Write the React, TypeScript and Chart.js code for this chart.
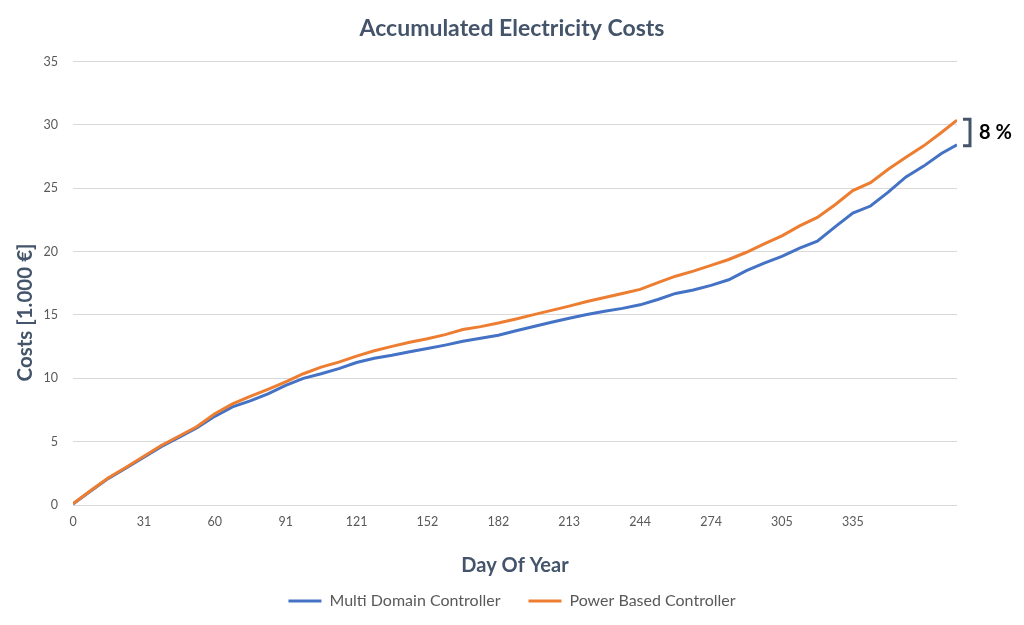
import React, { useEffect, useRef } from "react";
import { Chart, registerables } from "chart.js";

Chart.register(...registerables);

const TITLE = "Accumulated Electricity Costs";
const X_TITLE = "Day Of Year";
const Y_TITLE = "Costs [1.000 €]";
const SERIES_NAMES = ["Multi Domain Controller", "Power Based Controller"];
const ANNOTATION_TEXT = "8 %";

// x-axis tick labels (evenly spaced category-style labels)
const TICK_LABELS = ["0", "31", "60", "91", "121", "152", "182", "213", "244", "274", "305", "335"];
const X_MAX = 12.47;

// sample positions along the x axis, in units of tick steps
const POSITIONS = [
  0, 0.25, 0.5, 0.75, 1, 1.25, 1.5, 1.75, 2, 2.25, 2.5, 2.75, 3, 3.25, 3.5, 3.75, 4, 4.25, 4.5, 4.75,
  5, 5.25, 5.5, 5.75, 6, 6.25, 6.5, 6.75, 7, 7.25, 7.5, 7.75, 8, 8.25, 8.5, 8.75, 9, 9.25, 9.5, 9.75,
  10, 10.25, 10.5, 10.75, 11, 11.25, 11.5, 11.75, 12, 12.25, 12.47,
];

const MULTI_DOMAIN = [
  0.08, 1.1, 2.1, 2.92, 3.78, 4.62, 5.36, 6.1, 7.0, 7.75, 8.22, 8.78, 9.45, 10.0, 10.36, 10.76, 11.25, 11.58, 11.82, 12.1,
  12.35, 12.62, 12.92, 13.16, 13.4, 13.75, 14.09, 14.42, 14.74, 15.03, 15.3, 15.52, 15.8, 16.22, 16.7, 16.97, 17.34, 17.78, 18.5, 19.1,
  19.63, 20.28, 20.82, 21.95, 23.05, 23.6, 24.7, 25.9, 26.75, 27.75, 28.43,
];

const POWER_BASED = [
  0.1, 1.15, 2.15, 2.98, 3.85, 4.72, 5.45, 6.2, 7.2, 7.98, 8.57, 9.13, 9.72, 10.36, 10.88, 11.28, 11.75, 12.18, 12.52, 12.85,
  13.12, 13.45, 13.85, 14.08, 14.36, 14.68, 15.03, 15.36, 15.7, 16.06, 16.38, 16.7, 17.02, 17.56, 18.06, 18.46, 18.91, 19.38, 19.95, 20.62,
  21.25, 22.03, 22.7, 23.7, 24.82, 25.45, 26.5, 27.45, 28.35, 29.4, 30.38,
];

const FONT = "Lato";
const TITLE_COLOR = "#44546A";
const TEXT_COLOR = "#595959";
const GRID_COLOR = "#D9D9D9";
const BLUE = "#4472C4";
const ORANGE = "#ED7D31";

// y-axis title (centered on the full chart height) and the difference bracket
const annotationPlugin = {
  id: "annotations",
  afterDatasetsDraw(chart: any) {
    const { ctx, chartArea, scales, height } = chart;

    // y-axis title
    ctx.save();
    ctx.translate(25, height / 2);
    ctx.rotate(-Math.PI / 2);
    ctx.font = `bold 20.5px ${FONT}`;
    ctx.fillStyle = TITLE_COLOR;
    ctx.textAlign = "center";
    ctx.textBaseline = "middle";
    ctx.fillText(Y_TITLE, 0, 0);
    ctx.restore();

    // bracket
    const yTop = scales.y.getPixelForValue(POWER_BASED[POWER_BASED.length - 1]);
    const yBot = scales.y.getPixelForValue(MULTI_DOMAIN[MULTI_DOMAIN.length - 1]);
    const x0 = chartArea.right + 6;
    const x1 = chartArea.right + 13;
    ctx.save();
    ctx.strokeStyle = TITLE_COLOR;
    ctx.lineWidth = 3;
    ctx.lineJoin = "miter";
    ctx.beginPath();
    ctx.moveTo(x0, yTop - 1);
    ctx.lineTo(x1, yTop - 1);
    ctx.lineTo(x1, yBot + 1);
    ctx.lineTo(x0, yBot + 1);
    ctx.stroke();
    ctx.font = `bold 20px ${FONT}`;
    ctx.fillStyle = "#000000";
    ctx.textBaseline = "middle";
    ctx.textAlign = "left";
    ctx.fillText(ANNOTATION_TEXT, chartArea.right + 22, (yTop + yBot) / 2);
    ctx.restore();
  },
};

export default function App() {
  const canvasRef = useRef<HTMLCanvasElement | null>(null);

  useEffect(() => {
    if (!canvasRef.current) return;
    const chart = new Chart(canvasRef.current, {
      type: "line",
      data: {
        datasets: [
          {
            label: SERIES_NAMES[0],
            data: POSITIONS.map((x, i) => ({ x, y: MULTI_DOMAIN[i] })),
            borderColor: BLUE,
            backgroundColor: BLUE,
            borderWidth: 3,
            pointRadius: 0,
            tension: 0,
            order: 1,
          },
          {
            label: SERIES_NAMES[1],
            data: POSITIONS.map((x, i) => ({ x, y: POWER_BASED[i] })),
            borderColor: ORANGE,
            backgroundColor: ORANGE,
            borderWidth: 3,
            pointRadius: 0,
            tension: 0,
            order: 0,
          },
        ],
      },
      options: {
        animation: false,
        responsive: false,
        maintainAspectRatio: false,
        layout: { padding: { left: 0, right: 0, top: 0, bottom: 6 } },
        plugins: {
          title: {
            display: true,
            text: TITLE,
            color: TITLE_COLOR,
            font: { family: FONT, size: 23, weight: "bold" },
            padding: { top: 15, bottom: 19 },
          },
          legend: {
            display: true,
            position: "bottom",
            labels: {
              color: TEXT_COLOR,
              font: { family: FONT, size: 16 },
              usePointStyle: true,
              pointStyle: "line",
              pointStyleWidth: 33,
              padding: 28,
              sort: (a: any, b: any) => a.datasetIndex - b.datasetIndex,
            },
          },
          tooltip: { enabled: false },
        },
        scales: {
          x: {
            type: "linear",
            min: 0,
            max: X_MAX,
            afterBuildTicks: (s: any) => {
              s.ticks = TICK_LABELS.map((_, i) => ({ value: i }));
            },
            afterFit: (s: any) => {
              s.height = 60;
            },
            ticks: {
              autoSkip: false,
              maxRotation: 0,
              color: TEXT_COLOR,
              font: { family: FONT, size: 12.5 },
              padding: 9,
              callback: (_v: any, i: number) => TICK_LABELS[i] ?? "",
            },
            grid: { display: false, drawTicks: false },
            border: { display: false },
            title: {
              display: true,
              text: X_TITLE,
              color: TITLE_COLOR,
              font: { family: FONT, size: 20, weight: "bold" },
              padding: { top: 0, bottom: -13 },
            },
          },
          y: {
            min: 0,
            max: 35,
            ticks: {
              stepSize: 5,
              color: TEXT_COLOR,
              font: { family: FONT, size: 12.5 },
              padding: 15,
            },
            afterFit: (s: any) => {
              s.width = 73;
            },
            grid: { color: GRID_COLOR, lineWidth: 1, drawTicks: false },
            border: { display: false },
            title: { display: false },
          },
          rightSpace: {
            type: "linear",
            position: "right",
            display: true,
            afterFit: (s: any) => {
              s.width = 67;
            },
            ticks: { display: false },
            grid: { display: false, drawTicks: false },
            border: { display: false },
          },
        },
      },
      plugins: [annotationPlugin],
    });
    return () => chart.destroy();
  }, []);

  return (
    <div style={{ position: "fixed", left: 0, top: 0, width: 1024, height: 625, background: "#ffffff" }}>
      <canvas ref={canvasRef} width={1024} height={625} style={{ width: 1024, height: 625, display: "block" }} />
    </div>
  );
}
